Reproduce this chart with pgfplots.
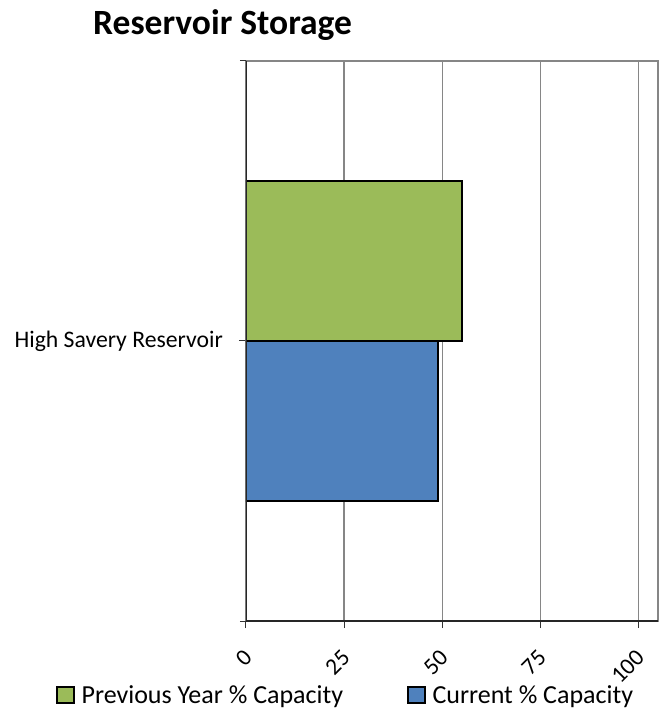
\documentclass[border=0pt]{standalone}
\usepackage{pgfplots}
\pgfplotsset{compat=1.18}
\usepackage{fontspec}
\setmainfont{Carlito}
\definecolor{prevgreen}{HTML}{9BBB59}
\definecolor{curblue}{HTML}{4F81BD}
\definecolor{gridgray}{HTML}{868686}
\begin{document}
\begin{tikzpicture}
\useasboundingbox (-246bp,-87bp) rectangle (415bp,621bp);
\begin{axis}[
  scale only axis,
  width=412bp, height=560bp,
  xmin=0, xmax=105,
  ymin=-0.5, ymax=0.5,
  xbar,
  axis line style={gridgray, line width=1.2bp},
  xtick={0,25,50,75,100},
  xmajorgrids,
  grid style={gridgray, line width=1.2bp},
  xtick pos=bottom, ytick pos=left,
  tick align=outside,
  major tick length=7bp,
  tick style={black!80, line width=1bp},
  /pgf/number format/assume math mode=true,
  xticklabel style={font=\fontsize{23.5bp}{28bp}\selectfont, inner sep=0pt, anchor=east, xshift=2bp, yshift=-26bp, rotate=45},
  ytick={0},
  yticklabels={High Savery Reservoir},
  yticklabel style={font=\fontsize{23.7bp}{28bp}\selectfont, anchor=east, inner sep=0pt, xshift=-16bp},
  extra y ticks={-0.5,0.5},
  extra y tick labels={},
  extra y tick style={major tick length=6bp, ytick pos=left},
  legend columns=2,
  legend style={draw=none, fill=none, inner xsep=0pt, inner ysep=0pt,
    at={(rel axis cs:-0.4612,-0.1320)}, anchor=west,
    font=\fontsize{26bp}{30bp}\selectfont,
    /tikz/every odd column/.append style={column sep=5bp},
    /tikz/every even column/.append style={column sep=62bp}},
  legend cell align=left,
  legend image code/.code={\draw[#1,/tikz/.cd,line width=1.4bp] (0bp,-8bp) rectangle (17bp,8bp);},
]
\addplot[fill=prevgreen, draw=black, line width=1.6bp, bar width=0.2857, bar shift=0.1429] coordinates {(55,0)};
\addlegendentry{Previous Year \% Capacity}
\addplot[fill=curblue, draw=black, line width=1.6bp, bar width=0.2857, bar shift=-0.1429] coordinates {(49,0)};
\addlegendentry{Current \% Capacity}
\draw[black!85, line width=1.2bp] (rel axis cs:0,1) -- (rel axis cs:0,0) -- (rel axis cs:1,0);
\end{axis}
\node[anchor=base west, inner sep=0pt, font=\bfseries\fontsize{35.5bp}{40bp}\selectfont] at (-153bp,586bp) {Reservoir Storage};
\end{tikzpicture}
\end{document}
